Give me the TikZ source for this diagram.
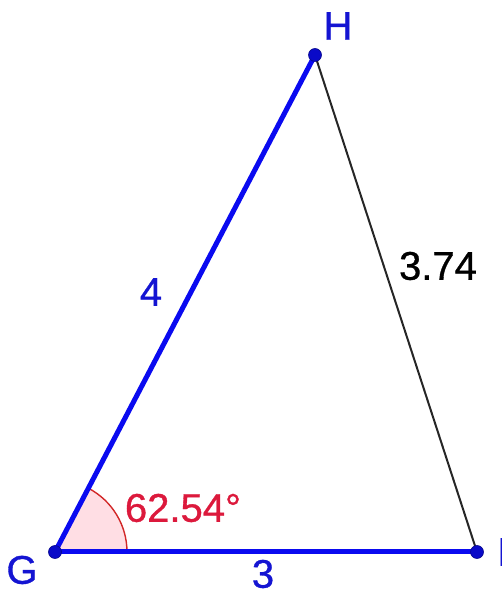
\documentclass[tikz,border=0pt]{standalone}
\usepackage{fontspec}
\setmainfont{Liberation Sans}
\newfontfamily\lblfont[FakeBold=0.8]{Liberation Sans}
\usetikzlibrary{calc}
\definecolor{segblue}{RGB}{10,10,240}
\definecolor{lblblue}{RGB}{20,20,210}
\definecolor{dotblue}{RGB}{10,10,200}
\definecolor{angred}{RGB}{220,25,60}
\definecolor{angfill}{RGB}{255,222,228}
\definecolor{angline}{RGB}{210,40,40}
\tikzset{
  seg/.style={draw=segblue, line width=5pt},
  thinseg/.style={draw=black!85, line width=2pt},
  pt/.style={circle, fill=dotblue, draw=dotblue!70!black, line width=0.6pt, inner sep=0pt, minimum size=13pt},
  lbl/.style={font=\lblfont\fontsize{40}{40}\selectfont, text=lblblue, inner sep=0pt},
  blk/.style={font=\lblfont\fontsize{40}{40}\selectfont, text=black, inner sep=0pt},
  ang/.style={font=\lblfont\fontsize{40}{40}\selectfont, text=angred, inner sep=0pt}
}
\begin{document}
\begin{tikzpicture}[x=1pt,y=1pt]
\useasboundingbox (0,0) rectangle (502,596);
\coordinate (G) at (55,44);
\coordinate (H) at (315,541);
\coordinate (I) at (477,44);
\fill[angfill] (G) -- ++(72,0) arc[start angle=0, end angle=62.38, radius=72] -- cycle;
\draw[angline, line width=1.4pt] ($(G)+(72,0)$) arc[start angle=0, end angle=62.38, radius=72];
\draw[thinseg] (H) -- (I);
\draw[seg] (G) -- (H);
\draw[seg] (G) -- (I);
\node[pt] (g) at (G) {};
\node[pt] (h) at (H) {};
\node[pt] (i) at (I) {};
\node[lbl] (lg) at (22,26) {G};
\node[lbl] (lh) at (338,570) {H};
\node[lbl, anchor=west] (li) at (497,44) {I};
\node[lbl] (l4) at (151,304) {4};
\node[lbl] (l3) at (263,22) {3};
\node[blk] (l374) at (438,330) {3.74};
\node[ang] (la) at (183,88) {62.54°};
\end{tikzpicture}
\end{document}
